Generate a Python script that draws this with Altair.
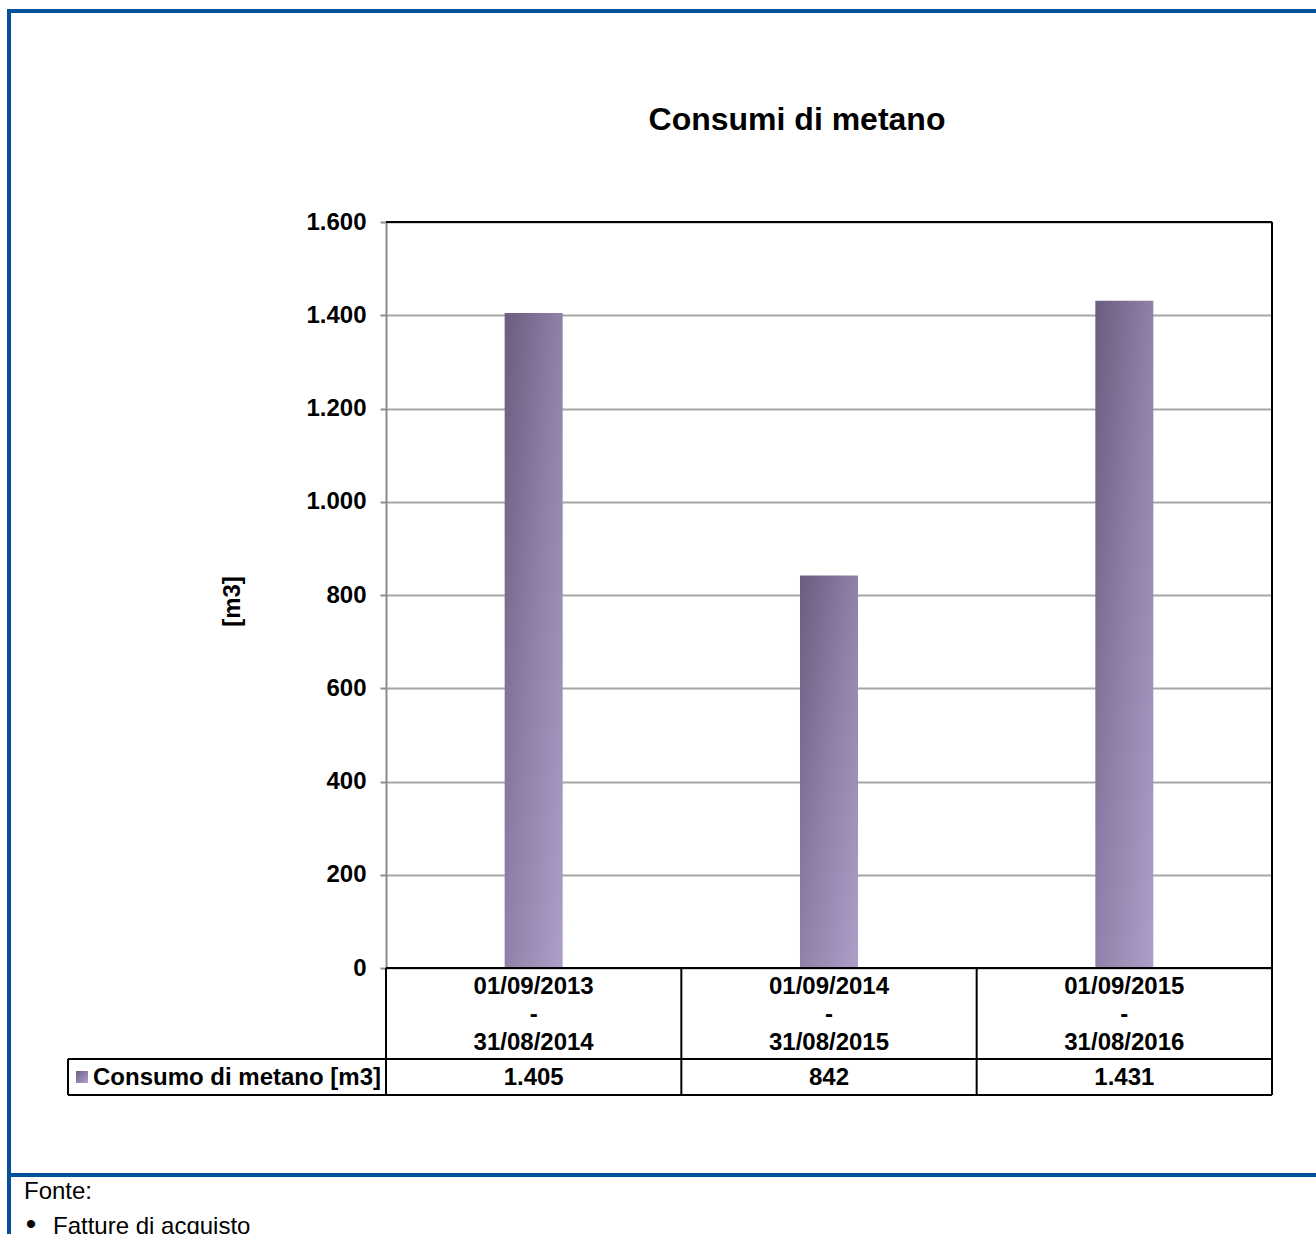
import altair as alt
import pandas as pd

# ---- data ----
periodo_inizio = ["01/09/2013", "01/09/2014", "01/09/2015"]
periodo_fine = ["31/08/2014", "31/08/2015", "31/08/2016"]
consumo = [1405, 842, 1431]
y_ticks = [0, 200, 400, 600, 800, 1000, 1200, 1400, 1600]

titolo = "Consumi di metano"
serie = "Consumo di metano [m3]"
unita = "[m3]"
fonte = "Fonte:"
fonte_voci = ["Fatture di acquisto"]

df = pd.DataFrame({
    "periodo": [f"{a} - {b}" for a, b in zip(periodo_inizio, periodo_fine)],
    "etichetta": [f"{a}\n-\n{b}" for a, b in zip(periodo_inizio, periodo_fine)],
    "consumo": consumo,
})

FONT = "Liberation Sans"
FS = 24
W, H = 886, 746
BLUE = "#00529b"

grad = alt.Gradient(
    gradient="linear", x1=0, y1=0, x2=1, y2=1,
    stops=[alt.GradientStop(color="#6a5d7e", offset=0),
           alt.GradientStop(color="#8f81aa", offset=0.5),
           alt.GradientStop(color="#ae9ec9", offset=1)],
)

xenc = alt.X("periodo:N", sort=None, axis=None,
             scale=alt.Scale(paddingInner=0.8036, paddingOuter=0.4018))

one = pd.DataFrame({"k": [0]})


def rule(x1, x2, y1, y2, color="black", width=2):
    return alt.Chart(one).mark_rule(color=color, strokeWidth=width).encode(
        x=alt.value(x1), x2=alt.value(x2), y=alt.value(y1), y2=alt.value(y2))


def label(txt, x, y, size=FS, weight="bold", align="left", baseline="middle"):
    return alt.Chart(one).mark_text(
        font=FONT, fontSize=size, fontWeight=weight, align=align,
        baseline=baseline, color="black").encode(
        x=alt.value(x), y=alt.value(y), text=alt.value(txt))


bars = alt.Chart(df).mark_bar(fill=grad).encode(
    x=xenc,
    y=alt.Y("consumo:Q",
            scale=alt.Scale(domain=[0, 1600], nice=False),
            axis=alt.Axis(values=y_ticks, title=unita,
                          labelExpr="replace(format(datum.value, ','), ',', '.')",
                          labelFont=FONT, labelFontSize=FS, labelFontWeight="bold",
                          labelColor="black", labelPadding=14,
                          tickSize=6, tickColor="#8c8c8c", tickWidth=2,
                          domainColor="#8c8c8c", domainWidth=2,
                          grid=True, gridColor="#a6a6a6", gridWidth=2,
                          titleFont=FONT, titleFontSize=FS, titleFontWeight="bold",
                          titleColor="black", titleX=-154, titleY=379,
                          titleAlign="center", titleBaseline="middle")),
)

cat_text = alt.Chart(df).mark_text(
    font=FONT, fontSize=FS, fontWeight="bold", lineBreak="\n", lineHeight=28,
    baseline="middle", color="black").encode(
    x=xenc, y=alt.value(765), text="etichetta:N")

val_text = alt.Chart(df).transform_calculate(
    val="replace(format(datum.consumo, ','), ',', '.')"
).mark_text(font=FONT, fontSize=FS, fontWeight="bold", baseline="middle",
            color="black").encode(x=xenc, y=alt.value(856), text="val:N")

# plot border (top, right)
border = [rule(0, W, 0, 0), rule(W, W, 0, H)]

# data table grid
table = [
    rule(0, W, H, H),
    rule(-318, W, 837, 837),
    rule(-318, W, 873, 873),
    rule(-318, -318, 837, 873),
] + [rule(W * i / 3, W * i / 3, H, 873) for i in range(4)]

swatch = alt.Chart(one).mark_rect(fill=grad).encode(
    x=alt.value(-310), x2=alt.value(-298), y=alt.value(849), y2=alt.value(861))

legend_txt = label(serie, -293, 856)

title_txt = label(titolo, 411, -92, size=32, align="center", baseline="alphabetic")

# blue page frame
frame = [
    rule(-377, -377, -213, 1012, BLUE, 4),
    rule(-379, 930, -211, -211, BLUE, 4),
    rule(-379, 930, 953, 953, BLUE, 4),
]

footer = [
    label(fonte, -362, 977, weight="normal", baseline="alphabetic"),
    label("\u2022", -355, 1003, size=30, weight="normal", align="center"),
] + [label(v, -333, 1012 + 26 * i, weight="normal", baseline="alphabetic")
     for i, v in enumerate(fonte_voci)]

chart = alt.layer(
    bars, cat_text, val_text, *border, *table, swatch, legend_txt, title_txt,
    *frame, *footer
).properties(
    width=W, height=H,
    autosize=alt.AutoSizeParams(type="none"),
    padding={"left": 386, "top": 222, "right": 44, "bottom": 266},
).configure_view(stroke=None).configure(background="white")

chart.save("out.html", embed_options={"renderer": "svg", "actions": False})
